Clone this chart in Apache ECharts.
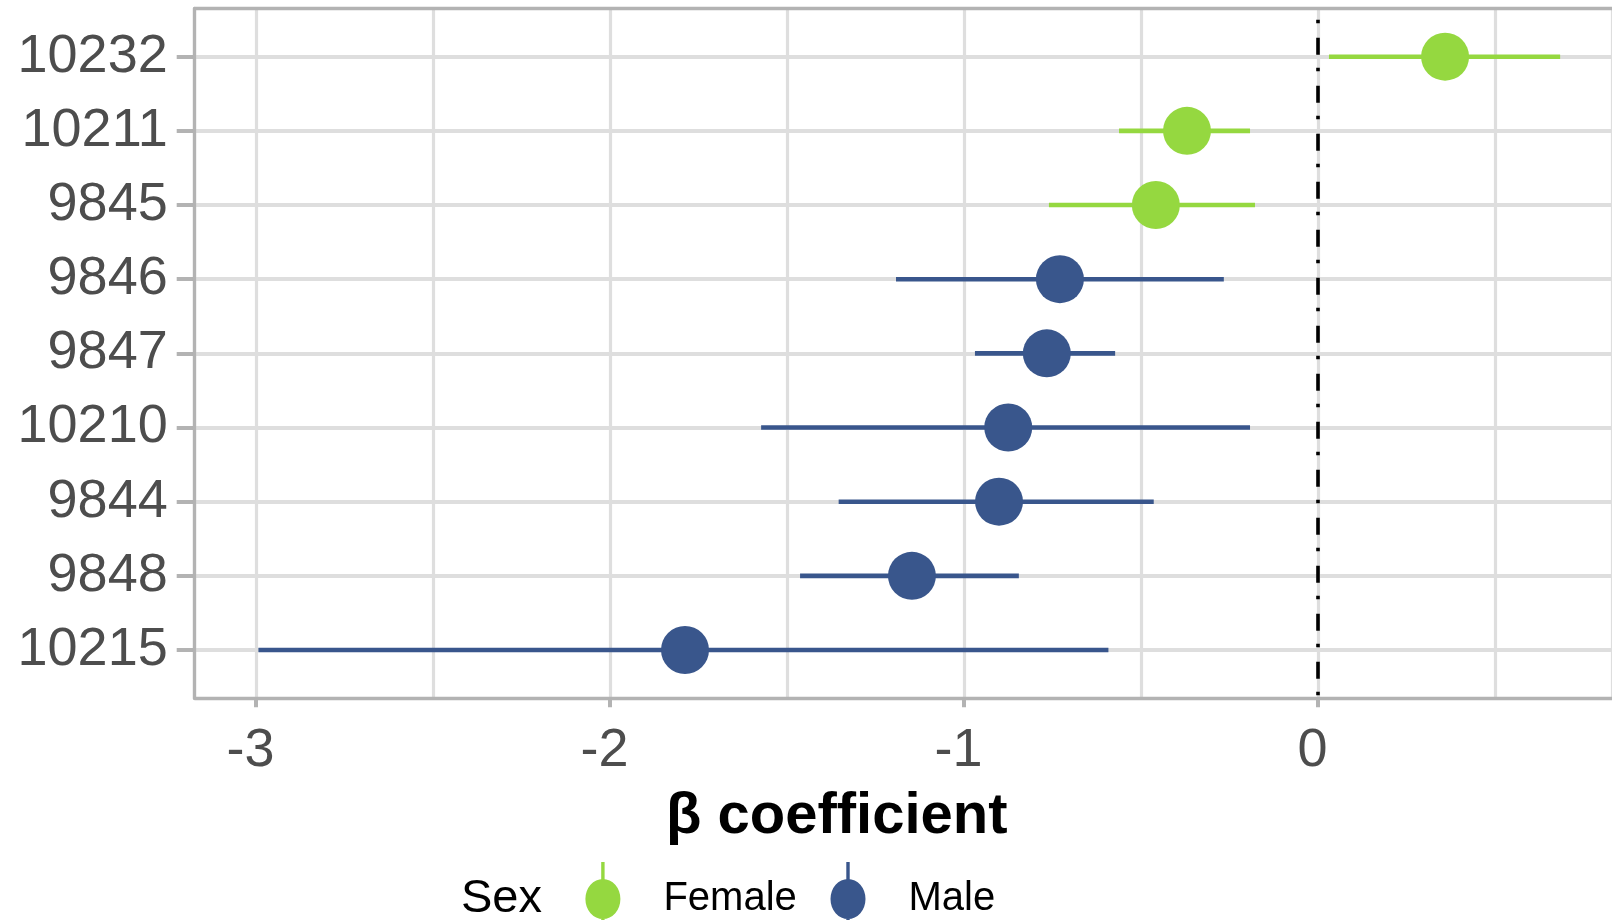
<!DOCTYPE html>
<html>
<head>
<meta charset="utf-8">
<script src="https://cdn.jsdelivr.net/npm/echarts@6/dist/echarts.min.js"></script>
<style>
html,body{margin:0;padding:0;background:#fff;}
#chart{width:1612px;height:920px;}
</style>
</head>
<body>
<div id="chart"></div>
<script>
// ---- data (top row first) ----
const categories = ['10232', '10211', '9845', '9846', '9847', '10210', '9844', '9848', '10215'];
const sexes      = ['Female', 'Female', 'Female', 'Male', 'Male', 'Male', 'Male', 'Male', 'Male'];
const estimates  = [0.359, -0.370, -0.458, -0.729, -0.766, -0.875, -0.901, -1.147, -1.788];
const lowerCI    = [0.031, -0.562, -0.760, -1.192, -0.969, -1.573, -1.354, -1.463, -2.993];
const upperCI    = [0.684, -0.192, -0.178, -0.266, -0.573, -0.192, -0.464, -0.845, -0.592];
const xTickValues = [-3, -2, -1, 0];
const groups = ['Female', 'Male'];
const groupColors = {Female: '#95D840', Male: '#39568C'};

const X_MIN = -3.173, X_MAX = 0.8305;
const FONT = "'Liberation Sans', Arial, sans-serif";
const BORDER = {show: true, onZero: false, lineStyle: {color: '#B3B3B3', width: 3.3}};

function pointsFor(g) {
  const out = [];
  categories.forEach((c, i) => { if (sexes[i] === g) out.push([estimates[i], c]); });
  return out;
}
function rangesFor(g) {
  const out = [];
  categories.forEach((c, i) => { if (sexes[i] === g) out.push([lowerCI[i], upperCI[i], c]); });
  return out;
}

const legendIcon = 'path://M15.8,0 L19.2,0 L19.2,74 L15.8,74 Z M0,37 A17.5,20 0 1 1 35,37 A17.5,20 0 1 1 0,37 Z';

const series = [];
groups.forEach(g => {
  series.push({
    name: g,
    type: 'custom',
    xAxisIndex: 1, yAxisIndex: 1,
    data: rangesFor(g),
    encode: {x: [0, 1], y: 2},
    itemStyle: {color: groupColors[g]},
    z: 3,
    silent: true,
    renderItem: function (params, api) {
      const a = api.coord([api.value(0), api.value(2)]);
      const b = api.coord([api.value(1), api.value(2)]);
      return {
        type: 'line',
        shape: {x1: a[0], y1: a[1], x2: b[0], y2: b[1]},
        style: {stroke: groupColors[g], lineWidth: 4.6, lineCap: 'butt'}
      };
    }
  });
  series.push({
    name: g,
    type: 'scatter',
    xAxisIndex: 1, yAxisIndex: 1,
    data: pointsFor(g),
    symbol: 'circle',
    symbolSize: 48,
    itemStyle: {color: groupColors[g], opacity: 1},
    z: 4,
    silent: true
  });
});
// zero reference line on the full-panel grid
series.push({
  name: 'zero',
  type: 'scatter',
  xAxisIndex: 0, yAxisIndex: 0,
  data: [],
  silent: true,
  z: 5,
  markLine: {
    silent: true,
    symbol: ['none', 'none'],
    label: {show: false},
    lineStyle: {color: '#000', width: 3.6, type: [3.5, 13, 17, 14.5], dashOffset: 45, cap: 'butt'},
    data: [{xAxis: 0}],
    animation: false
  }
});

function legendFor(g, left) {
  return {
    data: [{name: g, icon: legendIcon, itemStyle: {color: groupColors[g]}}],
    left: left, top: 862, padding: 0,
    itemWidth: 35, itemHeight: 74,
    selectedMode: false,
    itemStyle: {color: groupColors[g]},
    textStyle: {fontFamily: FONT, fontSize: 40, color: '#000', padding: [0, 0, 0, 38]}
  };
}

const option = {
  animation: false,
  backgroundColor: '#ffffff',
  title: [
    {
      text: 'β coefficient',
      left: 666, top: 788, padding: 0,
      textStyle: {fontFamily: FONT, fontSize: 58, fontWeight: 'bold', color: '#000'}
    },
    {
      text: 'Sex',
      left: 461, top: 876, padding: 0,
      textStyle: {fontFamily: FONT, fontSize: 47, fontWeight: 'normal', color: '#000'}
    }
  ],
  legend: [legendFor('Female', 585.4), legendFor('Male', 830.5)],
  grid: [
    { // full panel (right side runs off the picture)
      left: 194.7, right: 0, top: 8.5, bottom: 221.7
    },
    { // data rows
      left: 194.7, right: 0, top: 56.7, bottom: 270
    }
  ],
  xAxis: [
    { // labels + ticks + bottom border
      type: 'value', gridIndex: 0, min: X_MIN, max: X_MAX,
      position: 'bottom',
      axisLine: BORDER,
      axisTick: {show: true, length: 9, customValues: xTickValues, lineStyle: {color: '#B3B3B3', width: 4}},
      axisLabel: {show: true, customValues: xTickValues, margin: 26, fontFamily: FONT, fontSize: 54, color: '#4D4D4D',
                  padding: [0, 11, 0, 0], formatter: v => String(v)},
      splitLine: {show: false},
      z: 6
    },
    { // data grid x (hidden)
      type: 'value', gridIndex: 1, min: X_MIN, max: X_MAX,
      show: false, splitLine: {show: false}
    },
    { // vertical grid lines every 0.5 + top border
      type: 'value', gridIndex: 0, min: X_MIN, max: X_MAX,
      position: 'top', splitNumber: 8,
      axisLine: BORDER, axisTick: {show: false}, axisLabel: {show: false},
      splitLine: {show: true, lineStyle: {color: '#DEDEDE', width: 3.2}}
    }
  ],
  yAxis: [
    { // left border
      type: 'value', gridIndex: 0, min: 0, max: 1, position: 'left',
      axisLine: BORDER, axisTick: {show: false}, axisLabel: {show: false},
      splitLine: {show: false}, z: 6
    },
    {
      type: 'category', gridIndex: 1, data: categories, inverse: true, boundaryGap: false,
      position: 'left',
      axisLine: {show: false, onZero: false},
      axisTick: {show: true, length: 18, alignWithLabel: true, lineStyle: {color: '#B3B3B3', width: 4}},
      axisLabel: {fontFamily: FONT, fontSize: 54, color: '#4D4D4D', margin: 27, padding: [10, 0, 0, 0]},
      splitLine: {show: true, lineStyle: {color: '#DEDEDE', width: 4}}
    }
  ],
  series: series
};

const chart = echarts.init(document.getElementById('chart'), null, {renderer: 'canvas'});
chart.setOption(option);
</script>
</body>
</html>
